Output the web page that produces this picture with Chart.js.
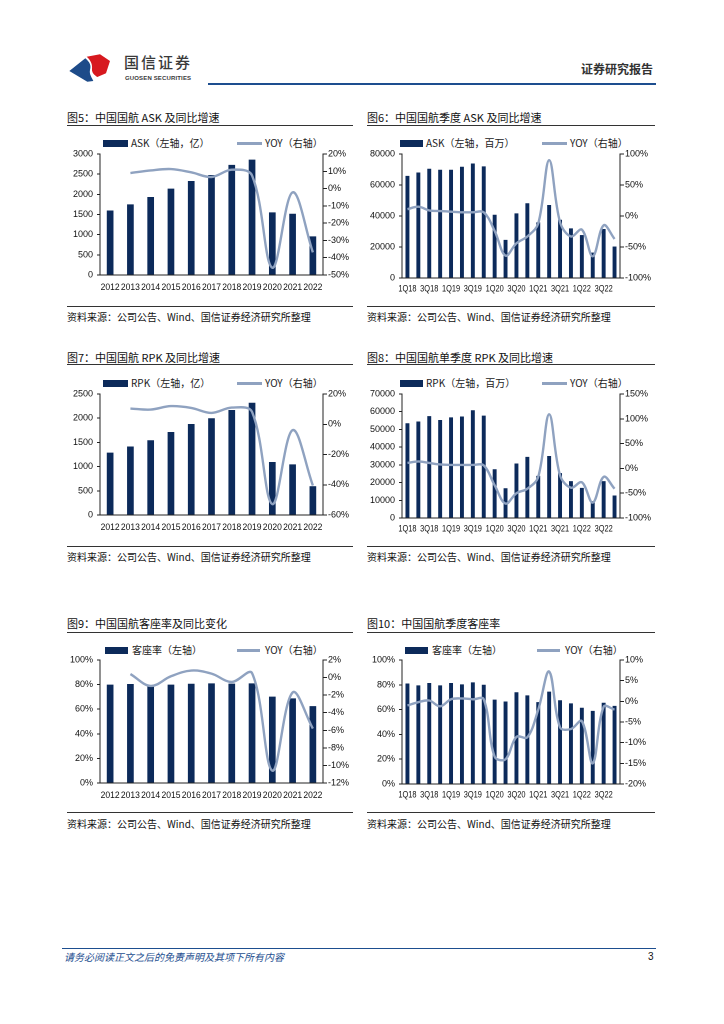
<!DOCTYPE html>
<html><head><meta charset="utf-8">
<script src="https://cdn.jsdelivr.net/npm/chart.js@4.4.1/dist/chart.umd.min.js"></script>
<style>
html,body{margin:0;padding:0;background:#fff;}
body{width:724px;height:1024px;position:relative;overflow:hidden;font-family:"Noto Sans CJK SC","Noto Sans",sans-serif;}
.a{position:absolute;white-space:nowrap;}
.title{font-size:11px;color:#111;line-height:14px;}
.rule{position:absolute;height:1px;background:#333;}
.src{font-size:10px;color:#111;line-height:12px;}
.leg{font-size:10px;color:#222;line-height:12px;}
.swb{position:absolute;height:7px;background:#0c2a5a;}
.swl{position:absolute;height:3px;background:#8fa2c0;}
canvas{position:absolute;}
</style></head>
<body>
<!-- header -->
<svg class="a" style="left:60px;top:45px" width="60" height="45" viewBox="0 0 180 135">
  <path d="M28,78 L76,40 C90,52 94,62 90,75 C87,88 96,98 100,108 L82,110 Z" fill="#1d4b89"/>
  <path d="M80,35 L120,28 L150,48 L138,85 L112,96 C102,90 95,82 96,72 C98,58 92,45 80,35 Z" fill="#d7191f"/>
</svg>
<div class="a" style="left:124px;top:53px;font-size:15px;line-height:18px;letter-spacing:2px;color:#3a3a3a;font-weight:500;">国信证券</div>
<div class="a" style="left:125px;top:74px;font-size:6px;line-height:8px;color:#3a3a3a;font-family:'Liberation Sans',sans-serif;font-weight:bold;letter-spacing:0.15px;">GUOSEN SECURITIES</div>
<div class="a" style="left:208px;top:83px;width:448px;height:2px;background:#1d4e8f;"></div>
<div class="a" style="left:581px;top:62px;font-size:12px;line-height:14px;color:#333;font-weight:bold;">证券研究报告</div>

<!-- Fig5 -->
<div class="a title" style="left:67px;top:110px;">图5：中国国航 ASK 及同比增速</div>
<div class="rule" style="left:67px;top:125px;width:286px;"></div>
<div class="swb" style="left:103px;top:140px;width:25px;"></div>
<div class="a leg" style="left:131px;top:137px;">ASK（左轴，亿）</div>
<div class="swl" style="left:237px;top:142px;width:25px;"></div>
<div class="a leg" style="left:265px;top:137px;">YOY（右轴）</div>
<canvas id="c5" width="300" height="153" style="left:60px;top:144px;"></canvas>
<div class="rule" style="left:67px;top:306px;width:286px;"></div>
<div class="a src" style="left:67px;top:311px;">资料来源：公司公告、Wind、国信证券经济研究所整理</div>

<!-- Fig6 -->
<div class="a title" style="left:367px;top:110px;">图6：中国国航季度 ASK 及同比增速</div>
<div class="rule" style="left:367px;top:125px;width:288px;"></div>
<div class="swb" style="left:400px;top:140px;width:23px;"></div>
<div class="a leg" style="left:426px;top:137px;">ASK（左轴，百万）</div>
<div class="swl" style="left:542px;top:142px;width:25px;"></div>
<div class="a leg" style="left:570px;top:137px;">YOY（右轴）</div>
<canvas id="c6" width="300" height="156" style="left:360px;top:144px;"></canvas>
<div class="rule" style="left:367px;top:306px;width:288px;"></div>
<div class="a src" style="left:367px;top:311px;">资料来源：公司公告、Wind、国信证券经济研究所整理</div>

<!-- Fig7 -->
<div class="a title" style="left:67px;top:350px;">图7：中国国航 RPK 及同比增速</div>
<div class="rule" style="left:67px;top:364px;width:286px;"></div>
<div class="swb" style="left:103px;top:380px;width:25px;"></div>
<div class="a leg" style="left:131px;top:377px;">RPK（左轴，亿）</div>
<div class="swl" style="left:237px;top:382px;width:25px;"></div>
<div class="a leg" style="left:265px;top:377px;">YOY（右轴）</div>
<canvas id="c7" width="300" height="153" style="left:60px;top:384px;"></canvas>
<div class="rule" style="left:67px;top:546px;width:286px;"></div>
<div class="a src" style="left:67px;top:551px;">资料来源：公司公告、Wind、国信证券经济研究所整理</div>

<!-- Fig8 -->
<div class="a title" style="left:367px;top:350px;">图8：中国国航单季度 RPK 及同比增速</div>
<div class="rule" style="left:367px;top:364px;width:288px;"></div>
<div class="swb" style="left:400px;top:380px;width:23px;"></div>
<div class="a leg" style="left:426px;top:377px;">RPK（左轴，百万）</div>
<div class="swl" style="left:542px;top:382px;width:25px;"></div>
<div class="a leg" style="left:570px;top:377px;">YOY（右轴）</div>
<canvas id="c8" width="300" height="156" style="left:360px;top:384px;"></canvas>
<div class="rule" style="left:367px;top:546px;width:288px;"></div>
<div class="a src" style="left:367px;top:551px;">资料来源：公司公告、Wind、国信证券经济研究所整理</div>

<!-- Fig9 -->
<div class="a title" style="left:67px;top:616px;">图9：中国国航客座率及同比变化</div>
<div class="rule" style="left:67px;top:632px;width:286px;"></div>
<div class="swb" style="left:105px;top:647px;width:23px;"></div>
<div class="a leg" style="left:132px;top:644px;">客座率（左轴）</div>
<div class="swl" style="left:237px;top:649px;width:23px;"></div>
<div class="a leg" style="left:265px;top:644px;">YOY（右轴）</div>
<canvas id="c9" width="300" height="155" style="left:60px;top:650px;"></canvas>
<div class="rule" style="left:67px;top:812px;width:286px;"></div>
<div class="a src" style="left:67px;top:818px;">资料来源：公司公告、Wind、国信证券经济研究所整理</div>

<!-- Fig10 -->
<div class="a title" style="left:367px;top:616px;">图10：中国国航季度客座率</div>
<div class="rule" style="left:367px;top:632px;width:288px;"></div>
<div class="swb" style="left:405px;top:647px;width:23px;"></div>
<div class="a leg" style="left:432px;top:644px;">客座率（左轴）</div>
<div class="swl" style="left:537px;top:649px;width:23px;"></div>
<div class="a leg" style="left:565px;top:644px;">YOY（右轴）</div>
<canvas id="c10" width="300" height="156" style="left:360px;top:650px;"></canvas>
<div class="rule" style="left:367px;top:812px;width:288px;"></div>
<div class="a src" style="left:367px;top:818px;">资料来源：公司公告、Wind、国信证券经济研究所整理</div>

<!-- footer -->
<div class="a" style="left:62px;top:948px;width:594px;height:1px;background:#1d4e8f;"></div>
<div class="a" style="left:64px;top:951px;font-size:10px;line-height:12px;color:#1d4e8f;font-style:italic;">请务必阅读正文之后的免责声明及其项下所有内容</div>
<div class="a" style="left:648px;top:951px;font-size:10px;line-height:12px;color:#111;font-family:'Liberation Sans',sans-serif;">3</div>

<script>
// ---------- data ----------
const years = ['2012','2013','2014','2015','2016','2017','2018','2019','2020','2021','2022'];
const quarters = ['1Q18','2Q18','3Q18','4Q18','1Q19','2Q19','3Q19','4Q19','1Q20','2Q20','3Q20','4Q20','1Q21','2Q21','3Q21','4Q21','1Q22','2Q22','3Q22','4Q22'];

const askYear = [1600,1750,1935,2140,2330,2480,2730,2862,1552,1518,958];
const askYearYoy = [null,9.0,10.5,11.3,9.4,6.7,10.9,7.6,-45.8,-2.2,-36.9];

const askQuarter = [65900,68100,70500,69800,69800,71800,73900,72000,40800,24600,41700,48200,35900,47100,37600,32000,27700,16400,31600,20300];
const askQuarterYoy = [11,15,9,8,7,6,6,6,-24,-64,-44,-33,-12,90,-10,-33,-22,-65,-15,-37];

const rpkYear = [1290,1415,1545,1715,1880,2000,2170,2320,1095,1045,595];
const rpkYearYoy = [null,10.4,9.7,12.0,10.8,7.5,11.0,8.2,-52.8,-3.9,-40.5];

const rpkQuarter = [53500,54500,57500,55300,56800,57300,60800,57800,27500,16800,30800,34500,23800,35000,25300,20800,17000,9500,20800,12700];
const rpkQuarterYoy = [11,14,11,8,7,7,7,6,-34,-71,-50,-41,-17,109,-14,-39,-28,-69,-17,-41];

const lfYear = [80.0,80.5,79.5,80.0,80.7,81.0,80.8,81.0,70.2,68.8,62.5];
const lfYearYoy = [null,0.4,-0.95,0.15,0.8,0.45,-0.5,0.5,-10.6,-1.7,-5.8];

const lfQuarter = [81.0,79.5,81.5,79.5,81.5,80.3,82.0,80.0,68.0,66.5,74.0,71.5,66.0,74.5,67.5,65.0,61.5,59.0,65.5,63.0];
const lfQuarterYoy = [-1.0,-0.2,0.2,-1.2,0.5,0.7,0.5,0.5,-13.4,-14.0,-8.6,-8.7,-2.0,7.2,-6.3,-6.7,-4.8,-15.0,-1.3,-2.0];

// ---------- style ----------
const BAR = '#0c2a5a';
const LINE = '#8fa2c0';
const NUMFONT = "'Liberation Sans', Arial, sans-serif";
Chart.defaults.font.family = NUMFONT;
Chart.defaults.color = '#111';

// x-axis category labels drawn narrow (condensed) at the library's tick positions
const narrowX = {
  id: 'narrowX',
  afterDraw(chart, args, o) {
    const s = chart.scales.x, ctx = chart.ctx;
    ctx.save();
    ctx.fillStyle = '#111';
    ctx.font = o.size + 'px ' + NUMFONT;
    ctx.textAlign = 'center';
    ctx.textBaseline = 'middle';
    chart.data.labels.forEach((lab, i) => {
      if (i % o.every) return;
      ctx.save();
      ctx.translate(s.getPixelForTick(i), s.top + o.dy);
      ctx.scale(o.sx, 1);
      ctx.fillText(lab, 0, 0);
      ctx.restore();
    });
    ctx.restore();
  }
};

function build(id, labels, bars, yoy, c) {
  const pct = v => v + '%';
  new Chart(document.getElementById(id), {
    data: {
      labels: labels,
      datasets: [
        {type:'line', data: yoy, yAxisID:'y1', borderColor: LINE, borderWidth: 2.4,
         pointRadius: 0, tension: 0.36, fill: false, order: 0},
        {type:'bar', data: bars, yAxisID:'y', backgroundColor: BAR,
         barPercentage: c.bp, categoryPercentage: 1, order: 1}
      ]
    },
    plugins: [narrowX],
    options: {
      responsive: false, animation: false, devicePixelRatio: 2,
      layout: {padding: {top: 10, left: 0, right: 0, bottom: 0}},
      plugins: {legend: {display: false}, tooltip: {enabled: false},
                narrowX: c.skip ? {every: 2, size: 9.5, sx: 0.78, dy: 11} : {every: 1, size: 9.5, sx: 0.9, dy: 12.5}},
      scales: {
        x: {
          grid: {display: false, drawTicks: false}, border: {display: true, color: '#222', width: 1},
          ticks: {display: false},
          afterFit: s => { s.height = 22; }
        },
        y: {
          position: 'left', min: c.ymin, max: c.ymax,
          grid: {drawOnChartArea: false, drawTicks: true, tickLength: 3, color: '#222'},
          border: {display: true, color: '#222', width: 1},
          ticks: {stepSize: c.ystep, padding: 4, color: '#111', font: {size: 9},
                  callback: c.ypct ? pct : (v => v)},
          afterFit: s => { s.width = c.lw; }
        },
        y1: {
          position: 'right', min: c.rmin, max: c.rmax,
          grid: {drawOnChartArea: false, drawTicks: true, tickLength: 4, color: '#222'},
          border: {display: true, color: '#222', width: 1},
          ticks: {stepSize: c.rstep, padding: 1, color: '#111', font: {size: 9}, callback: pct},
          afterFit: s => { s.width = c.rw; }
        }
      }
    }
  });
}

build('c5', years, askYear, askYearYoy, {bp:0.33, ymin:0, ymax:3000, ystep:500, rmin:-50, rmax:20, rstep:10, lw:40, rw:37});
build('c6', quarters, askQuarter, askQuarterYoy, {bp:0.36, skip:true, ymin:0, ymax:80000, ystep:20000, rmin:-100, rmax:100, rstep:50, lw:42, rw:40});
build('c7', years, rpkYear, rpkYearYoy, {bp:0.33, ymin:0, ymax:2500, ystep:500, rmin:-60, rmax:20, rstep:20, lw:40, rw:37});
build('c8', quarters, rpkQuarter, rpkQuarterYoy, {bp:0.36, skip:true, ymin:0, ymax:70000, ystep:10000, rmin:-100, rmax:150, rstep:50, lw:42, rw:40});
build('c9', years, lfYear, lfYearYoy, {bp:0.33, ymin:0, ymax:100, ystep:20, ypct:true, rmin:-12, rmax:2, rstep:2, lw:40, rw:37});
build('c10', quarters, lfQuarter, lfQuarterYoy, {bp:0.36, skip:true, ymin:0, ymax:100, ystep:20, ypct:true, rmin:-20, rmax:10, rstep:5, lw:42, rw:40});
</script>
</body></html>
